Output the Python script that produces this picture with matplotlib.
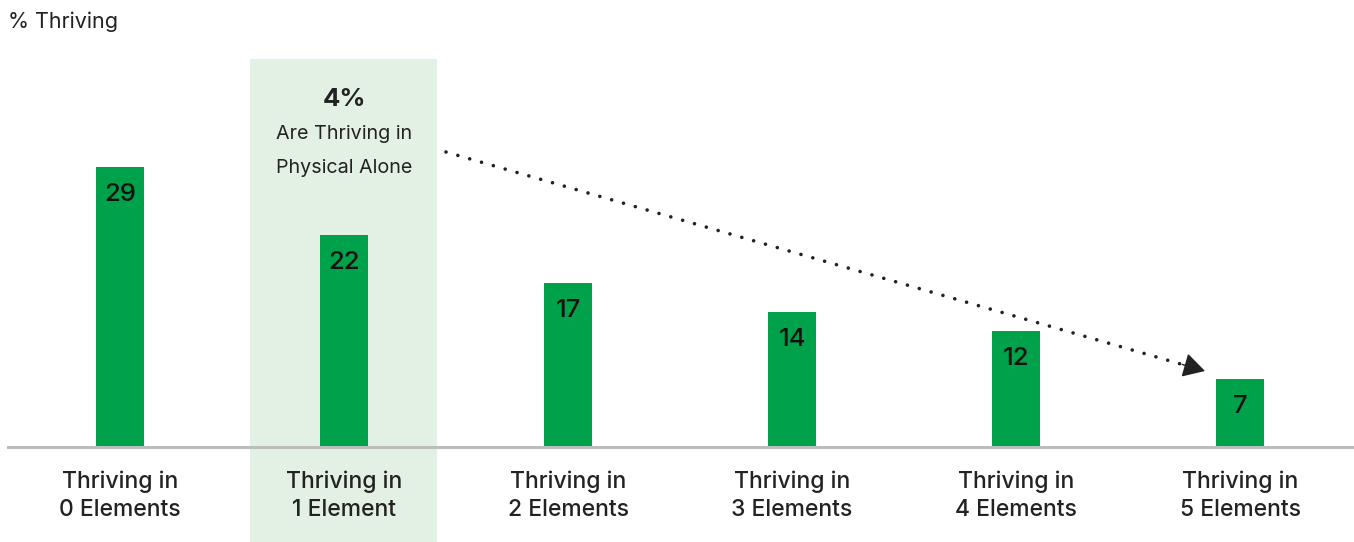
import matplotlib.pyplot as plt
from matplotlib.patches import Rectangle

plt.rcParams['font.family'] = ['Inter', 'DejaVu Sans']

# Share of people thriving overall, by number of wellbeing elements
categories = ["Thriving in\n0 Elements", "Thriving in\n1 Element", "Thriving in\n2 Elements",
              "Thriving in\n3 Elements", "Thriving in\n4 Elements", "Thriving in\n5 Elements"]
values = [29, 22, 17, 14, 12, 7]
highlight_index = 1
highlight_pct = "4%"
highlight_text = "Are Thriving in\nPhysical Alone"

green = "#00a14b"
light_green = "#e3f1e4"
text_color = "#222222"

fig = plt.figure(figsize=(13.54, 5.42), dpi=100)
ax = fig.add_axes([0, 95 / 542, 1, 447 / 542])
ax.set_xlim(-120 / 224, (1354 - 120) / 224)
ax.set_ylim(0, 447 / 9.655)
ax.axis("off")

x = list(range(len(values)))

# shaded column behind the highlighted category, running down past the labels
ax.add_patch(Rectangle((highlight_index - 0.418, -95 / 9.655), 0.835, (447 - 59 + 95) / 9.655,
                       facecolor=light_green, edgecolor="none", clip_on=False, zorder=0))

ax.bar(x, values, width=0.214, color=green, zorder=2)
ax.axhline(0, xmin=8 / 1354, xmax=1, color="#bcbcbc", lw=2.2, zorder=3, clip_on=False)

for xi, v in zip(x, values):
    ax.text(xi, v - 2.85, str(v), ha="center", va="center", fontsize=18.5,
            color="#111111", fontweight="medium", zorder=4)
    ax.text(xi, -2.4, categories[xi], ha="center", va="top", fontsize=16.5,
            color=text_color, linespacing=1.4, fontweight="medium")

ax.text(highlight_index, (447 - 99) / 9.655, highlight_pct, ha="center", va="center",
        fontsize=18.5, fontweight="bold", color=text_color)
ax.text(highlight_index, (447 - 151) / 9.655, highlight_text, ha="center", va="center",
        fontsize=14.2, color=text_color, linespacing=2.15)

# dotted trend arrow from the callout down to the last bar
x0, y0 = (446 - 120) / 224, (447 - 152) / 9.655
x1, y1 = (1205 - 120) / 224, (447 - 371) / 9.655
frac = 0.975
ax.plot([x0, x0 + (x1 - x0) * frac], [y0, y0 + (y1 - y0) * frac], color=text_color,
        lw=2.6, linestyle=(0, (0.01, 3.4)), dash_capstyle="round", zorder=4)
ax.annotate("", xy=(x1, y1), xytext=(x0 + (x1 - x0) * 0.97, y0 + (y1 - y0) * 0.97),
            arrowprops=dict(arrowstyle="-|>,head_length=0.8,head_width=0.45",
                            mutation_scale=17, color=text_color, lw=1,
                            shrinkA=0, shrinkB=0), zorder=4)

fig.text(8 / 1354, 1 - 22 / 542, "% Thriving", ha="left", va="center", fontsize=15.5,
         color=text_color)

fig.savefig("out.png", dpi=100)
